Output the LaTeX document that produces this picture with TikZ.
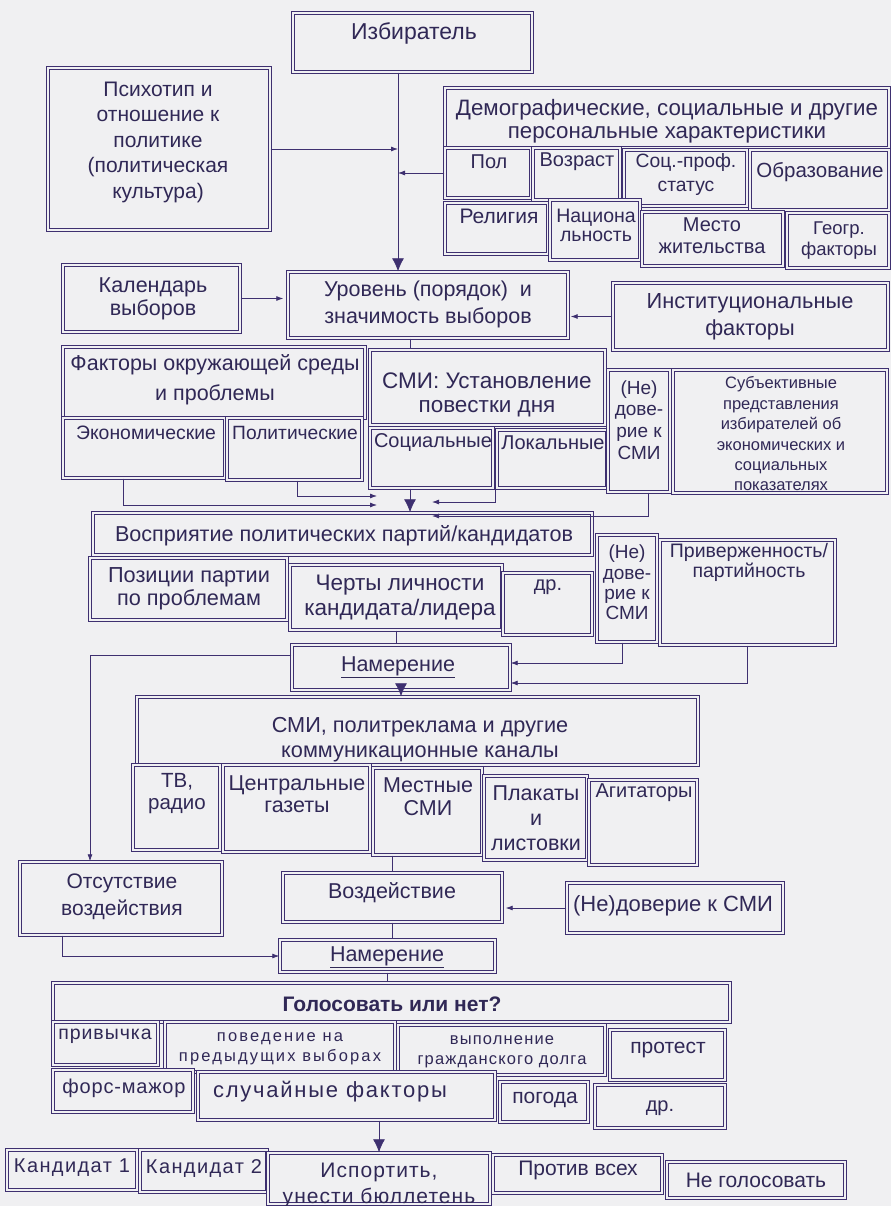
\documentclass[tikz,border=0pt]{standalone}
\usepackage{fontspec}
\setmainfont{Liberation Sans}
\usetikzlibrary{arrows.meta}
\definecolor{bg}{RGB}{240,240,242}
\definecolor{ink}{RGB}{62,48,112}
\definecolor{txt}{RGB}{48,40,86}
\newcommand\fz[2]{\fontsize{#1}{#2}\selectfont}
\newcommand\lsp[1]{\addfontfeatures{LetterSpace=#1}}
\newcommand\mybox[5]{\node[bx, minimum width={(#4)-(#2)}, minimum height={(#5)-(#3)}] (#1) at ({((#2)+(#4))/2},{((#3)+(#5))/2}) {};}
\tikzset{
  bx/.style={draw=ink, double=bg, double distance=1.4pt, line width=1.4pt, fill=bg, inner sep=0pt},
  tx/.style={text=txt, align=center, inner sep=0pt, font=\fz{21.5}{25.5}},
  sm/.style={tx, font=\fz{20}{22}},
  xs/.style={tx, font=\fz{16.5}{20}},
  ln/.style={draw=ink, line width=0.8pt},
  arr/.style={ln, -{Latex[length=7pt,width=5pt]}},
  bigarr/.style={ln, -{Latex[length=13pt,width=12pt]}},
}
\begin{document}
\begin{tikzpicture}[x=1pt,y=-1pt]
\fill[bg] (0,0) rectangle (891,1206);
\useasboundingbox (0,0) rectangle (891,1206);
% ---- top
\mybox{izb}{293}{13}{532}{72}
\node[tx,font=\fz{23}{26}] (t-izb) at (414,33) {Избиратель};
\mybox{psy}{48}{68}{270}{230}
\node[tx,font=\fz{21}{25.5}] (t-psy) at (158,142) {Психотип и\\отношение к\\политике\\(политическая\\культура)};
\mybox{dem}{445}{88}{889}{148}
\node[tx,font=\fz{22.3}{23}] (t-dem) at (667,121) {Демографические, социальные и другие\\персональные характеристики};
\mybox{pol}{445}{148}{531}{198}
\node[sm] (t-pol) at (489,162) {Пол};
\mybox{voz}{533}{148}{620}{200}
\node[sm] (t-voz) at (577,162) {Возраст};
\mybox{soc}{624}{150}{747}{206}
\node[sm,font=\fz{19.3}{24}] (t-soc) at (686,175) {Соц.-проф.\\статус};
\mybox{obr}{750}{150}{889}{210}
\node[sm,font=\fz{20.5}{22}] (t-obr) at (820,172) {Образование};
\mybox{rel}{445}{203}{548}{254}
\node[sm,font=\fz{21}{22}] (t-rel) at (499,216) {Религия};
\mybox{nac}{550}{200}{640}{260}
\node[sm,font=\fz{19.5}{19}] (t-nac) at (596,225) {Национа\\льность};
\mybox{mes}{642}{212}{783}{266}
\node[sm] (t-mes) at (712,236) {Место\\жительства};
\mybox{geo}{787}{213}{889}{268}
\node[sm,font=\fz{18.5}{21}] (t-geo) at (839,241) {Геогр.\\факторы};
% ---- level
\mybox{kal}{63}{265}{240}{332}
\node[tx,font=\fz{21.5}{23}] (t-kal) at (153,298.5) {Календарь\\выборов};
\mybox{lvl}{288}{272}{568}{338}
\node[tx,font=\fz{21.5}{27}] (t-lvl) at (428,304) {Уровень (порядок)~~и\\значимость выборов};
\mybox{ins}{613}{283}{888}{350}
\node[tx,font=\fz{21.8}{27}] (t-ins) at (750,316.5) {Институциональные\\факторы};
\coordinate (vx) at (398,0);
\draw[ln] (izb.south -| vx) -- (pol.west -| vx);
\draw[bigarr] (pol.west -| vx) -- (lvl.north -| vx);
\draw[arr] (psy.east) -- (psy.east -| vx);
\draw[arr] (pol.west) -- (pol.west -| vx);
\draw[arr, shorten >=4pt] (kal.east) -- (kal.east -| lvl.west);
\draw[arr, shorten >=2pt] (ins.west) -- (ins.west -| lvl.east);
% ---- factor block
\mybox{fak}{63}{347}{365}{418}
\node[tx,font=\fz{21.5}{30}] (t-fak) at (215,380) {Факторы окружающей среды\\и проблемы};
\mybox{smi1}{370}{350}{605}{425}
\node[tx,font=\fz{22.5}{24}] (t-smi1) at (487,395) {СМИ: Установление\\повестки дня};
\mybox{eko}{63}{418}{225}{478}
\node[sm,font=\fz{19.4}{22}] (t-eko) at (146,433) {Экономические};
\mybox{polit}{227}{418}{362}{480}
\node[sm,font=\fz{19.2}{22}] (t-polit) at (295,433) {Политические};
\mybox{socl}{370}{428}{493}{488}
\node[sm] (t-socl) at (433,443) {Социальные};
\mybox{lok}{497}{430}{607}{488}
\node[sm] (t-lok) at (553,443) {Локальные};
\mybox{ned1}{608}{370}{670}{492}
\node[sm,font=\fz{19}{21.7}] (t-ned1) at (639,420) {(Не)\\дове-\\рие к\\СМИ};
\mybox{sub}{673}{370}{887}{493}
\node[xs,font=\fz{16.5}{20.4}] (t-sub) at (781,434) {Субъективные\\представления\\избирателей об\\экономических и\\социальных\\показателях};
% ---- perception
\mybox{vosp}{93}{513}{592}{555}
\node[tx,font=\fz{21.6}{25}] (t-vosp) at (344,536) {Восприятие политических партий/кандидатов};
\mybox{poz}{90}{558}{287}{620}
\node[tx,font=\fz{21.7}{23}] (t-poz) at (189,588.5) {Позиции партии\\по проблемам};
\mybox{cher}{290}{565}{502}{630}
\node[tx,font=\fz{22.5}{25}] (t-cher) at (400,597.5) {Черты личности\\кандидата/лидера};
\mybox{dr1}{503}{573}{592}{635}
\node[sm] (t-dr1) at (548,587) {др.};
\mybox{ned2}{597}{535}{657}{642}
\node[sm,font=\fz{19}{20.3}] (t-ned2) at (627,582.5) {(Не)\\дове-\\рие к\\СМИ};
\mybox{pri}{660}{540}{835}{645}
\node[sm,font=\fz{19.5}{20}] (t-pri) at (749,562) {Приверженность/\\партийность};
\coordinate (ra1) at (377,505);
\coordinate (ra2) at (377,496);
\coordinate (la1) at (432,502);
\coordinate (la2) at (432,516);
\coordinate (dx) at (410,0);
\draw[arr] ([xshift=-21pt]eko.south) |- (ra1);
\draw[arr] ([xshift=3pt]polit.south) |- (ra2);
\draw[arr] ([xshift=-57pt]lok.south) |- (la1);
\draw[arr] ([xshift=9pt]ned1.south) |- (la2);
\draw[ln] (lvl.south -| dx) -- (smi1.north -| dx);
\draw[bigarr] (socl.south -| dx) -- (vosp.north -| dx);
% ---- intention 1
\mybox{nam1}{292}{645}{510}{690}
\node[tx] (t-nam1) at (398,667) {\underline{Намерение}};
\draw[ln] (cher.south) -- (cher.south |- nam1.north);
\draw[arr] ([xshift=-5pt]ned2.south) |- ([yshift=4.5pt]nam1.east);
\draw[arr] (pri.south) |- ([yshift=-15.5pt]nam1.east);
% ---- media
\mybox{smi2}{137}{697}{698}{765}
\node[tx,font=\fz{21.7}{25}] (t-smi2) at (420,740) {СМИ, политреклама и другие\\коммуникационные каналы};
\draw[bigarr] (nam1.south) -- (nam1.south |- smi2.north);
\mybox{tv}{133}{765}{220}{850}
\node[sm,font=\fz{20.5}{22}] (t-tv) at (177,794) {ТВ,\\радио};
\mybox{cen}{223}{765}{370}{852}
\node[sm,font=\fz{21.5}{22}] (t-cen) at (297,794) {Центральные\\газеты};
\mybox{mest}{373}{768}{482}{855}
\node[sm,font=\fz{21.5}{23}] (t-mest) at (428,796.5) {Местные\\СМИ};
\mybox{plak}{484}{776}{587}{860}
\node[sm,font=\fz{21.5}{25}] (t-plak) at (536,818) {Плакаты\\и\\листовки};
\mybox{agit}{589}{780}{697}{865}
\node[sm] (t-agit) at (644,793) {Агитаторы};
% ---- influence
\mybox{ots}{20}{862}{222}{935}
\node[tx,font=\fz{21}{27}] (t-ots) at (122,896.5) {Отсутствие\\воздействия};
\draw[arr] ([yshift=12.5pt]nam1.west) -| ([xshift=-31pt]ots.north);
\mybox{vozd}{283}{873}{502}{922}
\node[tx] (t-vozd) at (392,893) {Воздействие};
\mybox{ned3}{567}{883}{783}{933}
\node[tx,font=\fz{22}{25}] (t-ned3) at (673,906) {(Не)доверие к СМИ};
\mybox{nam2}{280}{940}{495}{972}
\node[tx] (t-nam2) at (387,957) {\underline{Намерение}};
\draw[ln] (vozd.north |- mest.south) -- (vozd.north);
\draw[arr, shorten >=3pt] (ned3.west) -- (ned3.west -| vozd.east);
\draw[ln] (vozd.south) -- (vozd.south |- nam2.north);
\draw[arr] ([xshift=-59pt]ots.south) |- (nam2.west);
% ---- vote or not
\mybox{gol}{53}{983}{730}{1022}
\node[tx,font=\bfseries\fz{21}{23}] (t-gol) at (392,1004) {Голосовать или нет?};
\draw[ln] (nam2.south) -- (nam2.south |- gol.north);
\mybox{priv}{53}{1022}{158}{1065}
\node[sm,font=\fz{19.5}{22}\lsp{5}] (t-priv) at (105,1036) {привычка};
\mybox{pov}{165}{1022}{395}{1072}
\node[xs,font=\fz{16.5}{20}\lsp{13}] (t-pov) at (280,1049) {поведение на\\предыдущих выборах};
\mybox{vyp}{398}{1025}{605}{1075}
\node[xs,font=\fz{16.5}{20}\lsp{7}] (t-vyp) at (502,1052) {выполнение\\гражданского долга};
\mybox{prot}{610}{1030}{725}{1080}
\node[sm,font=\fz{21}{22}] (t-prot) at (668,1050) {протест};
\mybox{fors}{53}{1070}{193}{1112}
\node[sm,font=\fz{20}{22}\lsp{4}] (t-fors) at (124,1088) {форс-мажор};
\mybox{slu}{198}{1072}{495}{1120}
\node[tx,font=\fz{22}{24}\lsp{8}] (t-slu) at (330,1092) {случайные факторы};
\mybox{pog}{500}{1082}{588}{1122}
\node[sm,font=\fz{21}{22}] (t-pog) at (545,1100) {погода};
\mybox{dr2}{595}{1085}{725}{1128}
\node[sm] (t-dr2) at (660,1108) {др.};
% ---- outcomes
\mybox{k1}{7}{1150}{137}{1190}
\node[sm,font=\fz{20}{22}\lsp{7}] (t-k1) at (72,1168) {Кандидат 1};
\mybox{k2}{140}{1150}{267}{1192}
\node[sm,font=\fz{20}{22}\lsp{7}] (t-k2) at (204,1168) {Кандидат 2};
\mybox{isp}{268}{1153}{490}{1204}
\node[tx,font=\fz{21}{26}\lsp{5}] (t-isp) at (379,1185) {Испортить,\\унести бюллетень};
\mybox{prot2}{493}{1155}{662}{1193}
\node[tx,font=\fz{21}{23}] (t-prot2) at (578,1170) {Против всех};
\mybox{neg}{667}{1162}{845}{1198}
\node[tx,font=\fz{21}{23}] (t-neg) at (756,1180) {Не голосовать};
\draw[bigarr] (slu.south -| isp.north) -- (isp.north);
\end{tikzpicture}
\end{document}
